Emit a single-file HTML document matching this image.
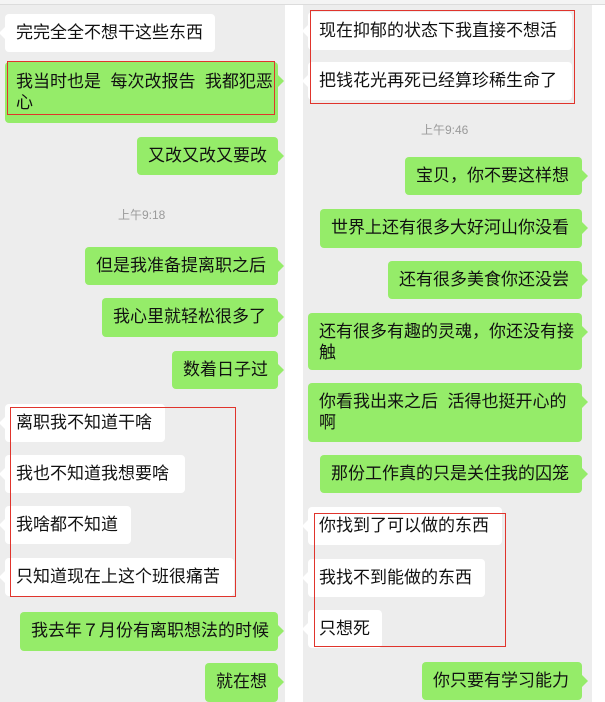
<!DOCTYPE html>
<html><head><meta charset="utf-8"><style>
html,body{margin:0;padding:0;}
body{width:605px;height:702px;position:relative;overflow:hidden;background:#fff;font-family:"Liberation Sans","Noto Sans CJK SC",sans-serif;}
.p{position:absolute;top:4px;bottom:0;background:#ededed;}
.top{position:absolute;left:0;top:0;width:605px;height:4px;background:#f4f4f4;border-bottom:1px solid #dcdcdc;}
.b{position:absolute;font-size:17px;line-height:21px;color:#111;padding:8px 11px;box-sizing:border-box;border-radius:4px;white-space:nowrap;}
.w{background:#fff;}
.g{background:#95ec69;}
.g::after{content:"";position:absolute;right:-6px;top:13px;border:6px solid transparent;border-right:0;border-left-color:#95ec69;}
.w::before{content:"";position:absolute;left:-6px;top:13px;border:6px solid transparent;border-left:0;border-right-color:#fff;}
.t{position:absolute;font-size:12px;color:#9a9a9a;}
.r{position:absolute;border:1.5px solid #e0342c;box-sizing:border-box;}
</style></head><body>
<div class="p" style="left:0;width:285px"></div>
<div class="p" style="left:303px;width:289px"></div>
<div class="top"></div>

<div class="b w" style="left:5px;top:14px;width:210px;height:38px">完完全全不想干这些东西</div>
<div class="b g" style="left:5px;top:62px;width:273px;height:61px;padding-top:9px">我当时也是&nbsp; 每次改报告&nbsp; 我都犯恶<br>心</div>
<div class="r" style="left:7px;top:61px;width:268px;height:54px"></div>
<div class="b g" style="left:137px;top:137px;width:141px;height:38px">又改又改又要改</div>
<div class="t" style="left:118px;top:206px">上午9:18</div>
<div class="b g" style="left:85px;top:247px;width:193px;height:38px">但是我准备提离职之后</div>
<div class="b g" style="left:102px;top:298px;width:176px;height:39px">我心里就轻松很多了</div>
<div class="b g" style="left:172px;top:351px;width:106px;height:38px">数着日子过</div>
<div class="b w" style="left:5px;top:404px;width:160px;height:38px">离职我不知道干啥</div>
<div class="b w" style="left:5px;top:455px;width:180px;height:38px">我也不知道我想要啥</div>
<div class="b w" style="left:5px;top:506px;width:126px;height:38px">我啥都不知道</div>
<div class="b w" style="left:5px;top:558px;width:229px;height:38px">只知道现在上这个班很痛苦</div>
<div class="r" style="left:10px;top:407px;width:226px;height:190px"></div>
<div class="b g" style="left:20px;top:612px;width:258px;height:39px">我去年７月份有离职想法的时候</div>
<div class="b g" style="left:205px;top:663px;width:73px;height:39px">就在想</div>

<div class="b w" style="left:308px;top:12px;width:264px;height:38px">现在抑郁的状态下我直接不想活</div>
<div class="b w" style="left:308px;top:62px;width:264px;height:38px">把钱花光再死已经算珍稀生命了</div>
<div class="r" style="left:310px;top:10px;width:265px;height:94px"></div>
<div class="t" style="left:421px;top:121px">上午9:46</div>
<div class="b g" style="left:405px;top:157px;width:177px;height:38px">宝贝，你不要这样想</div>
<div class="b g" style="left:320px;top:209px;width:262px;height:39px">世界上还有很多大好河山你没看</div>
<div class="b g" style="left:388px;top:261px;width:194px;height:38px">还有很多美食你还没尝</div>
<div class="b g" style="left:308px;top:313px;width:274px;height:57px">还有很多有趣的灵魂，你还没有接<br>触</div>
<div class="b g" style="left:308px;top:383px;width:274px;height:59px">你看我出来之后&nbsp; 活得也挺开心的<br>啊</div>
<div class="b g" style="left:320px;top:455px;width:262px;height:38px">那份工作真的只是关住我的囚笼</div>
<div class="b w" style="left:308px;top:507px;width:194px;height:38px">你找到了可以做的东西</div>
<div class="b w" style="left:308px;top:559px;width:177px;height:38px">我找不到能做的东西</div>
<div class="b w" style="left:308px;top:610px;width:74px;height:38px">只想死</div>
<div class="r" style="left:314px;top:513px;width:192px;height:134px"></div>
<div class="b g" style="left:422px;top:662px;width:160px;height:38px">你只要有学习能力</div>
</body></html>
